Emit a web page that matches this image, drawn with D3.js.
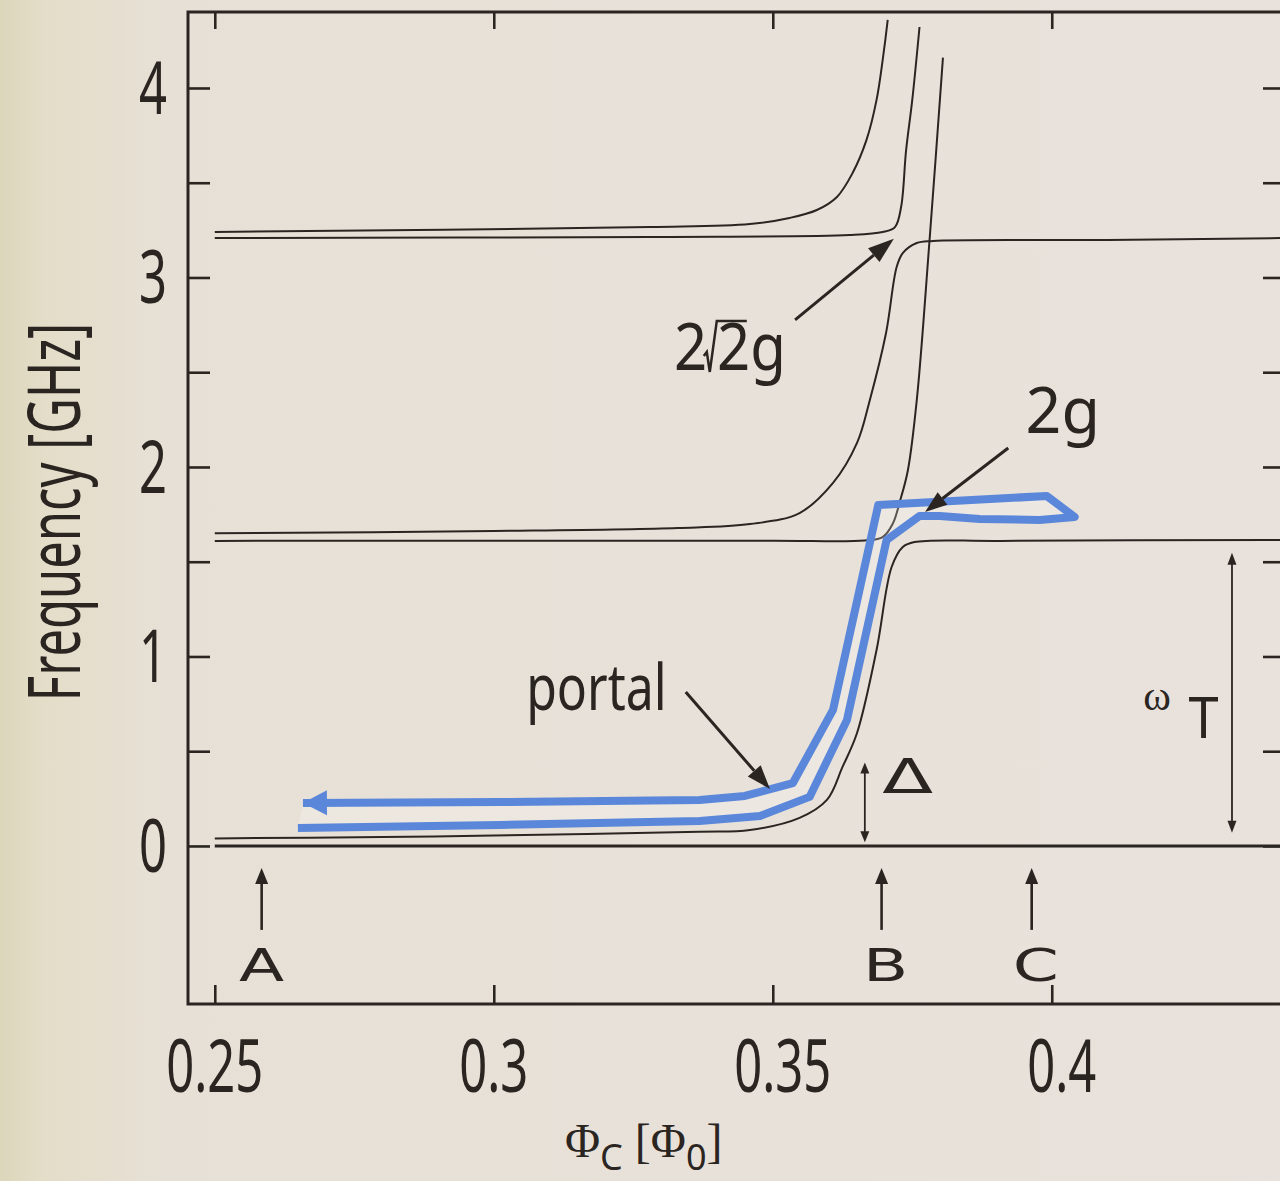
<!DOCTYPE html>
<html>
<head>
<meta charset="utf-8">
<script src="https://cdn.jsdelivr.net/npm/d3@7"></script>
<style>
body { margin: 0; background: #e8e1db; }
svg { display: block; }
</style>
</head>
<body>
<div id="canvas"></div>
<script>
"use strict"

let drawingWidth = 1280;
let drawingHeight = 1181;

// levels, [flux Phi_C, frequency GHz]
let zeroLevel = [[0.25, 0], [0.4418, 0]];
let lowerBranch = [[0.25, 0.04], [0.28, 0.047], [0.30, 0.055], [0.3369, 0.075], [0.3459, 0.084],
  [0.3548, 0.148], [0.3597, 0.243], [0.3625, 0.417], [0.3651, 0.596], [0.3686, 1.034],
  [0.3713, 1.472], [0.3733, 1.578], [0.3754, 1.604], [0.3907, 1.610], [0.4418, 1.615]];
let qubitBranch = [[0.25, 1.610], [0.30, 1.611], [0.35, 1.611], [0.3665, 1.612], [0.3697, 1.630],
  [0.3715, 1.70], [0.3728, 1.82], [0.3742, 1.98], [0.3758, 2.35], [0.3781, 3.198], [0.3805, 4.16]];
let pairBranch = [[0.25, 1.650], [0.30, 1.662], [0.333, 1.678], [0.3459, 1.699], [0.3548, 1.757],
  [0.3608, 1.916], [0.3651, 2.127], [0.3674, 2.354], [0.3703, 2.707], [0.3722, 3.055],
  [0.3733, 3.129], [0.3758, 3.182], [0.3787, 3.193], [0.41, 3.198], [0.4418, 3.208]];
let upperFlat = [[0.25, 3.208], [0.328, 3.214], [0.3638, 3.224], [0.3697, 3.240], [0.3719, 3.266],
  [0.3730, 3.372], [0.3739, 3.673], [0.3750, 3.937], [0.3763, 4.322]];
let upperBend = [[0.25, 3.240], [0.328, 3.266], [0.3459, 3.282], [0.3530, 3.314], [0.3579, 3.356],
  [0.3615, 3.425], [0.3643, 3.551], [0.3668, 3.726], [0.3686, 3.937], [0.3697, 4.148], [0.3706, 4.359]];

// blue portal loop, out along the top and back along the bottom
let portalPath = [[0.2658, 0.227], [0.3011, 0.232], [0.3369, 0.243], [0.3450, 0.264], [0.3536, 0.332],
  [0.3608, 0.718], [0.3689, 1.799], [0.3991, 1.847], [0.4041, 1.736], [0.3978, 1.720],
  [0.3871, 1.726], [0.3799, 1.741], [0.3763, 1.741], [0.3704, 1.615], [0.3633, 0.665],
  [0.3566, 0.259], [0.3477, 0.158], [0.3369, 0.132], [0.3011, 0.111], [0.2649, 0.095]];

let xTicks = [0.25, 0.3, 0.35, 0.4];
let xTickLabels = ["0.25", "0.3", "0.35", "0.4"];
let yTicks = [0, 0.5, 1, 1.5, 2, 2.5, 3, 3.5, 4];
let yTickLabels = [0, 1, 2, 3, 4];
let fluxMarks = ["A", "B", "C"];
let fluxMarkValues = [0.2584, 0.3695, 0.3964];

let ink = "#2b2522";
let blue = "#5a87da";

let x = d3.scaleLinear().domain([0.2452, 0.4418]).range([188, 1285]);
let y = d3.scaleLinear().domain([-0.834, 4.401]).range([1004, 12]);

let drawing = d3.select("#canvas")
    .append("svg")
    .attr("width", drawingWidth)
    .attr("height", drawingHeight);

let defs = drawing.append("defs");
let paper = defs.append("linearGradient").attr("id", "paper")
    .attr("x1", 0).attr("x2", 1).attr("y1", 0).attr("y2", 0);
paper.append("stop").attr("offset", 0).attr("stop-color", "#dcd6bb");
paper.append("stop").attr("offset", 0.03).attr("stop-color", "#e3ddc8");
paper.append("stop").attr("offset", 0.13).attr("stop-color", "#e7e0d6");
paper.append("stop").attr("offset", 1).attr("stop-color", "#e9e2dc");

drawing.append("rect")
    .attr("width", drawingWidth)
    .attr("height", drawingHeight)
    .attr("fill", "url(#paper)");

let x0 = x.range()[0], x1 = x.range()[1];
let yTop = y.range()[1], yBottom = y.range()[0];

defs.append("clipPath").attr("id", "plot").append("rect")
    .attr("x", x0).attr("y", yTop)
    .attr("width", x1 - x0).attr("height", yBottom - yTop);

// ticks, all pointing inward
function styleAxis(g) {
  g.select(".domain").remove();
  g.selectAll("line").attr("stroke", ink).attr("stroke-width", 2.6);
  g.selectAll("text").remove();
}

drawing.append("g").attr("transform", `translate(0,${yBottom})`)
    .call(d3.axisBottom(x).tickValues(xTicks).tickSize(-19)).call(styleAxis);
drawing.append("g").attr("transform", `translate(0,${yTop})`)
    .call(d3.axisTop(x).tickValues(xTicks).tickSize(-17)).call(styleAxis);
drawing.append("g").attr("transform", `translate(${x0},0)`)
    .call(d3.axisLeft(y).tickValues(yTicks).tickSize(-22)).call(styleAxis);
drawing.append("g").attr("transform", `translate(${x1},0)`)
    .call(d3.axisRight(y).tickValues(yTicks).tickSize(-22)).call(styleAxis);

drawing.append("rect")
    .attr("x", x0).attr("y", yTop)
    .attr("width", x1 - x0).attr("height", yBottom - yTop)
    .attr("fill", "none")
    .attr("stroke", ink)
    .attr("stroke-width", 3);

// tick labels, condensed
xTicks.forEach(function (v, i) {
  drawing.append("text")
    .attr("transform", `translate(${x(v) + (i > 1 ? 10 : 0)},${yBottom + 88}) scale(0.67,1)`)
    .attr("text-anchor", "middle")
    .attr("font-family", "Noto Sans")
    .attr("font-size", 73)
    .attr("fill", ink)
    .text(xTickLabels[i]);
});

yTickLabels.forEach(function (v) {
  drawing.append("text")
    .attr("transform", `translate(${x0 - 21},${y(v) + 26}) scale(0.67,1)`)
    .attr("text-anchor", "end")
    .attr("font-family", "Noto Sans")
    .attr("font-size", 73)
    .attr("fill", ink)
    .text(v);
});

drawing.append("text")
    .attr("transform", `translate(80,${(yTop + yBottom) / 2 + 4}) rotate(-90) scale(0.67,1)`)
    .attr("text-anchor", "middle")
    .attr("font-family", "Noto Sans")
    .attr("font-size", 73)
    .attr("fill", ink)
    .text("Frequency [GHz]");

let xTitle = drawing.append("text")
    .attr("x", 565)
    .attr("y", 1157)
    .attr("font-family", "Liberation Serif")
    .attr("font-size", 48)
    .attr("fill", ink);
xTitle.append("tspan").text("Φ");
xTitle.append("tspan").attr("dy", 13).attr("font-family", "Noto Sans").attr("font-size", 36).text("C");
xTitle.append("tspan").attr("dy", -13).text(" [Φ");
xTitle.append("tspan").attr("dy", 13).attr("font-family", "Noto Sans").attr("font-size", 36).text("0");
xTitle.append("tspan").attr("dy", -13).text("]");

// energy levels
let plot = drawing.append("g").attr("clip-path", "url(#plot)");

let levelLine = d3.line()
    .x(d => x(d[0]))
    .y(d => y(d[1]))
    .curve(d3.curveCatmullRom.alpha(0.5));

plot.append("path")
    .attr("d", levelLine(zeroLevel))
    .attr("fill", "none")
    .attr("stroke", ink)
    .attr("stroke-width", 3);

let levels = [lowerBranch, qubitBranch, pairBranch, upperFlat, upperBend];
levels.forEach(function (lvl) {
  plot.append("path")
    .attr("d", levelLine(lvl))
    .attr("fill", "none")
    .attr("stroke", ink)
    .attr("stroke-width", 2);
});

// portal loop
let portalLine = d3.line().x(d => x(d[0])).y(d => y(d[1]));

plot.append("path")
    .attr("d", portalLine(portalPath))
    .attr("fill", "rgba(255,255,255,0.22)")
    .attr("stroke", blue)
    .attr("stroke-width", 8)
    .attr("stroke-linejoin", "round")
    .attr("stroke-linecap", "butt");

function head(g, tx, ty, fx, fy, len, half, color) {
  let dx = tx - fx, dy = ty - fy;
  let d = Math.sqrt(dx * dx + dy * dy);
  let ux = dx / d, uy = dy / d;
  let bx = tx - ux * len, by = ty - uy * len;
  g.append("path")
    .attr("d", `M${tx},${ty}L${bx - uy * half},${by + ux * half}L${bx + uy * half},${by - ux * half}Z`)
    .attr("fill", color);
  return [bx, by];
}

head(plot, x(portalPath[0][0]), y(portalPath[0][1]),
     x(portalPath[1][0]), y(portalPath[1][1]), 24, 12.5, blue);

// annotation arrows
function arrow(fromX, fromY, toX, toY, width, len, half) {
  let base = head(drawing, toX, toY, fromX, fromY, len, half, ink);
  drawing.append("line")
    .attr("x1", fromX).attr("y1", fromY)
    .attr("x2", base[0]).attr("y2", base[1])
    .attr("stroke", ink)
    .attr("stroke-width", width);
}

function doubleArrow(px, fa, fb, width, len, half) {
  let ya = y(fa), yb = y(fb);
  head(drawing, px, ya, px, yb, len, half, ink);
  head(drawing, px, yb, px, ya, len, half, ink);
  drawing.append("line")
    .attr("x1", px).attr("y1", ya - (ya > yb ? len - 1 : 1 - len))
    .attr("x2", px).attr("y2", yb + (ya > yb ? len - 1 : 1 - len))
    .attr("stroke", ink)
    .attr("stroke-width", width);
}

arrow(x(0.3540), y(2.776), x(0.3717), y(3.205), 3, 26, 9);
arrow(x(0.3922), y(2.100), x(0.3773), y(1.763), 3, 22, 8);
arrow(x(0.3344), y(0.813), x(0.3495), y(0.301), 3, 24, 8.5);

doubleArrow(x(0.3665), 0.02, 0.44, 1.8, 11, 4.5);
doubleArrow(x(0.4323), 0.07, 1.548, 1.8, 12, 4.5);

fluxMarkValues.forEach(function (v, i) {
  arrow(x(v), y(-0.443), x(v), y(-0.116), 2.6, 16, 6.5);
  drawing.append("text")
    .attr("transform", `translate(${x(v) + (i === 0 ? 0 : 4)},${y(-0.712)}) scale(1.5,1)`)
    .attr("text-anchor", "middle")
    .attr("font-family", "DejaVu Sans")
    .attr("font-size", 44)
    .attr("fill", ink)
    .text(fluxMarks[i]);
});

// labels
function label(txt, phi, f, size, sx, family) {
  drawing.append("text")
    .attr("transform", `translate(${x(phi)},${y(f)}) scale(${sx},1)`)
    .attr("font-family", family || "Noto Sans")
    .attr("font-size", size)
    .attr("fill", ink)
    .text(txt);
}

label("portal", 0.3058, 0.718, 64, 0.78);
label("2g", 0.3953, 2.179, 64, 0.98);
label("2", 0.3323, 2.512, 66, 0.88);
label("2g", 0.3400, 2.512, 66, 0.88);
label("Δ", 0.3696, 0.28, 48, 1.55, "DejaVu Sans");
label("ω", 0.4164, 0.718, 42, 1, "Liberation Serif");
label("T", 0.4245, 0.570, 57, 0.95);

// radical sign over the second 2
let rx = x(0.3328), ry = y(2.512);
drawing.append("path")
    .attr("d", `M${rx + 27},${ry - 14}L${rx + 30},${ry - 18}L${rx + 33},${ry + 2}L${rx + 40},${ry - 49}L${rx + 70},${ry - 49}`)
    .attr("fill", "none")
    .attr("stroke", ink)
    .attr("stroke-width", 2.5);
</script>
</body>
</html>
